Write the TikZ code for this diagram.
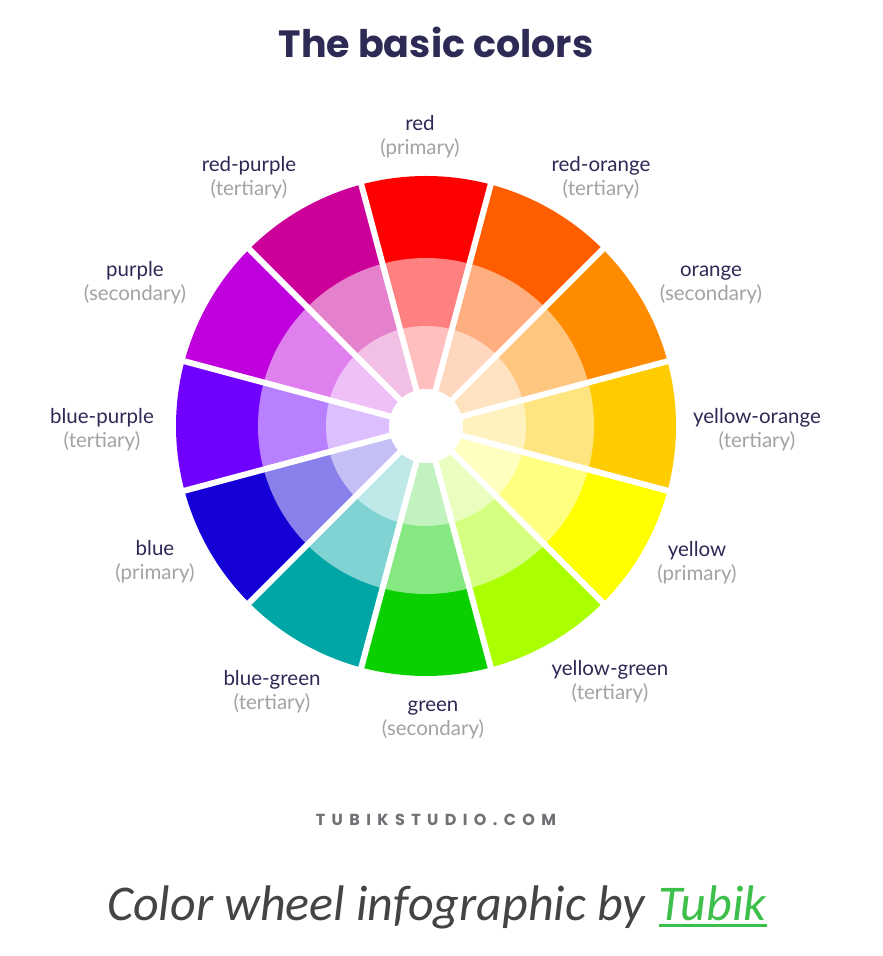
\documentclass[tikz,border=0pt]{standalone}
\usepackage{fontspec}
\setmainfont{Lato}
\newfontfamily\titlefont{Poppins}
\newfontfamily\tubfont{Poppins}[LetterSpace=40]
\newfontfamily\capfont{Carlito}
\definecolor{cred}{HTML}{FF0000}
\definecolor{cro}{HTML}{FF5E00}
\definecolor{cor}{HTML}{FF8C00}
\definecolor{cyo}{HTML}{FFCC00}
\definecolor{cye}{HTML}{FFFF00}
\definecolor{cyg}{HTML}{AAFF00}
\definecolor{cgr}{HTML}{0AD000}
\definecolor{cbg}{HTML}{00A6A6}
\definecolor{cbl}{HTML}{1400D6}
\definecolor{cbp}{HTML}{7000FF}
\definecolor{cpu}{HTML}{BF00DD}
\definecolor{crp}{HTML}{CC0099}
\definecolor{navy}{HTML}{2D2A56}
\definecolor{catgray}{HTML}{A3A3A3}
\definecolor{tubgray}{HTML}{707175}
\definecolor{capgray}{HTML}{444444}
\definecolor{linkgreen}{HTML}{3CBF4B}
\tikzset{
  nm/.style={anchor=base, text=navy, inner sep=0pt, font=\fontsize{20.5}{24}\selectfont},
  ct/.style={anchor=base, text=catgray, inner sep=0pt, font=\fontsize{20.5}{24}\selectfont},
  gapline/.style={white, line width=6pt},
  captext/.style={anchor=base west, inner sep=0pt, font=\capfont\itshape\fontsize{50}{54}\selectfont},
}
\begin{document}
\begin{tikzpicture}[x=1pt,y=1pt]
\useasboundingbox (0,0) rectangle (883,956);
\fill[white] (0,0) rectangle (883,956);
% title
\node[anchor=base, text=navy, inner sep=0pt, font=\titlefont\bfseries\fontsize{38}{42}\selectfont] (title) at (436,898) {The basic colors};
% wheel
\begin{scope}[shift={(426,530)}]
\foreach \a/\c in {90/cred,60/cro,30/cor,0/cyo,-30/cye,-60/cyg,-90/cgr,-120/cbg,-150/cbl,180/cbp,150/cpu,120/crp}{
  \fill[\c] (0,0) -- (\a-15:250pt) arc[start angle=\a-15, end angle=\a+15, radius=250pt] -- cycle;
  \fill[\c!50!white] (0,0) -- (\a-15:168pt) arc[start angle=\a-15, end angle=\a+15, radius=168pt] -- cycle;
  \fill[\c!25!white] (0,0) -- (\a-15:100pt) arc[start angle=\a-15, end angle=\a+15, radius=100pt] -- cycle;
}
\foreach \a in {15,45,...,345}{
  \draw[gapline] (0,0) -- (\a:262pt);
}
\fill[white] (0,0) circle (37pt);
\end{scope}
% labels
\node[nm] (lred) at (420,825) {red};
\node[ct] (cred) at (420,801) {(primary)};
\node[nm] (lro) at (601,784) {red-orange};
\node[ct] (cro) at (601,760) {(tertiary)};
\node[nm] (lor) at (711,679) {orange};
\node[ct] (cor) at (711,655) {(secondary)};
\node[nm] (lyo) at (757,532) {yellow-orange};
\node[ct] (cyo) at (757,508) {(tertiary)};
\node[nm] (lye) at (697,399) {yellow};
\node[ct] (cye) at (697,375) {(primary)};
\node[nm] (lyg) at (610,280) {yellow-green};
\node[ct] (cyg) at (610,256) {(tertiary)};
\node[nm] (lgr) at (433,244) {green};
\node[ct] (cgr) at (433,220) {(secondary)};
\node[nm] (lbg) at (272,270) {blue-green};
\node[ct] (cbg) at (272,246) {(tertiary)};
\node[nm] (lbl) at (155,400) {blue};
\node[ct] (cbl) at (155,376) {(primary)};
\node[nm] (lbp) at (102,532) {blue-purple};
\node[ct] (cbp) at (102,508) {(tertiary)};
\node[nm] (lpu) at (135,679) {purple};
\node[ct] (cpu) at (135,655) {(secondary)};
\node[nm] (lrp) at (249,784) {red-purple};
\node[ct] (crp) at (249,760) {(tertiary)};
% footer
\node[anchor=base, text=tubgray, inner sep=0pt, font=\tubfont\bfseries\fontsize{16}{18}\selectfont] (tubik) at (436,130) {TUBIKSTUDIO.COM};
\node[captext, text=capgray] (cap) at (107,35) {Color wheel infographic by};
\node[captext, text=linkgreen] (link) at ([xshift=13pt]cap.base east) {Tubik};
\draw[linkgreen, line width=3pt] ([yshift=-5pt]link.base west) -- ([yshift=-5pt]link.base east);
\end{tikzpicture}
\end{document}
